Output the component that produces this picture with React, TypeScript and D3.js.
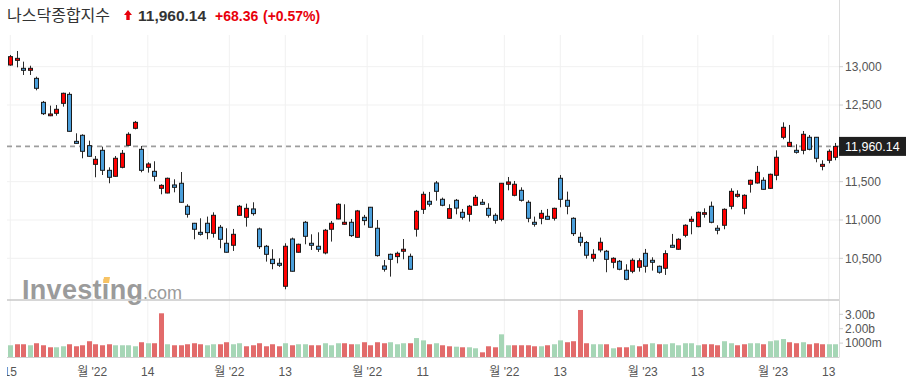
import React from "react";
import * as d3 from "d3";

const openV = [13022,13083,12979,12953,12848,12535,12360,12392,12522,12639,12026,12105,11970,11726,11909,11648,11570,11687,11974,12196,11922,11687,11635,11413,11352,11457,11479,11179,10957,10839,10957,10826,10905,10696,10670,11061,11035,11144,10883,10657,10487,10435,10135,10752,10579,10970,10696,10657,10570,10879,11013,10944,10970,10774,11035,11166,10892,10400,10552,10522,10592,10526,10879,11139,11244,11483,11270,11022,11257,11100,11074,11192,11231,11152,11061,11009,11466,11322,11387,11231,10970,11022,11048,11022,11544,11257,11022,10774,10705,10500,10609,10592,10448,10461,10344,10331,10383,10565,10474,10396,10370,10670,10618,10800,10983,10913,11074,11179,10892,10931,11179,11309,11152,11466,11483,11518,11413,11583,12079,11961,11909,11909,12079,12079,11700,11779,11818];
const highV = [13153,13205,13066,13013,12870,12553,12492,12500,12661,12666,12131,12118,12035,11835,11957,11687,11835,11913,12144,12292,11966,11753,11766,11466,11553,11531,11626,11205,10962,11022,11044,11100,10935,10892,10883,11196,11213,11231,10900,10674,10618,10500,10696,10770,10691,10987,10813,10839,10883,10987,11218,11205,11013,11131,11066,11170,11000,10478,10561,10587,10752,10561,11131,11370,11366,11509,11292,11205,11274,11144,11196,11326,11274,11218,11087,11483,11561,11509,11426,11257,11044,11131,11144,11161,11587,11370,11035,10839,10726,10618,10770,10609,10513,10478,10422,10500,10500,10622,10513,10405,10605,10818,10761,10944,11048,11110,11152,11240,10931,11152,11413,11387,11335,11526,11705,11557,11605,11909,12274,12240,11987,12161,12109,12083,11779,11922,12005];
const lowV = [13013,12992,12892,12892,12692,12370,12355,12361,12479,12153,11995,11805,11826,11557,11587,11479,11566,11674,11970,12183,11622,11618,11505,11335,11348,11361,11226,11031,10748,10796,10748,10770,10631,10574,10596,11057,10913,11057,10622,10457,10357,10387,10096,10327,10574,10683,10609,10583,10552,10718,11009,10935,10779,10770,10931,10900,10522,10326,10261,10435,10487,10352,10783,11079,11174,11252,11179,11018,11074,11005,10979,11187,11196,11031,10952,10983,11387,11309,11240,10970,10913,10944,11005,10992,11166,11074,10791,10657,10496,10457,10579,10318,10370,10344,10213,10305,10326,10313,10339,10300,10283,10639,10609,10774,10813,10905,11031,10957,10813,10879,11139,11292,11074,11357,11474,11396,11404,11518,12053,11955,11866,11857,11909,11753,11648,11740,11779];
const closeV = [13131,13109,12953,12979,12718,12387,12383,12444,12653,12157,12000,11896,11831,11792,11648,11557,11805,11870,12118,12274,11648,11731,11570,11452,11544,11426,11231,11074,10879,10813,10835,11061,10748,10579,10813,11179,11152,11083,10652,10552,10431,10409,10657,10331,10683,10787,10670,10618,10866,10957,11205,10970,10796,11118,10992,10905,10535,10357,10487,10565,10618,10357,11113,11335,11205,11374,11192,11148,11155,11035,11179,11296,11205,11061,10996,11479,11496,11466,11257,11022,10944,11087,11009,11152,11270,11179,10822,10709,10540,10552,10709,10487,10500,10357,10226,10474,10468,10396,10448,10318,10561,10644,10748,10931,11009,11100,11095,10970,10866,11139,11374,11335,11322,11518,11622,11400,11596,11818,12209,12013,11883,12118,11922,11805,11726,11896,11960.14];
const volumeB = [0.85,0.92,0.92,0.85,0.99,0.85,0.71,0.71,0.78,0.92,0.78,0.85,1.13,0.92,0.85,0.92,0.85,0.85,0.85,0.78,1.06,0.99,0.99,3.07,0.92,0.85,0.85,0.92,0.99,0.92,0.85,0.92,0.92,1.06,0.92,0.99,0.78,0.85,0.99,0.78,0.92,0.78,0.99,0.85,0.92,0.92,0.85,0.85,0.99,0.85,0.99,0.99,0.92,0.92,1.06,0.85,1.06,0.99,1.06,0.92,0.99,0.99,1.35,1.19,0.92,0.99,0.85,0.78,0.75,0.71,0.71,0.64,0.36,0.78,0.71,1.61,0.85,0.85,0.85,0.85,0.78,0.78,0.85,0.92,1.19,1.06,1.13,3.30,0.99,0.92,0.92,0.92,0.64,0.71,0.71,0.85,0.78,0.92,0.99,0.92,0.92,0.99,0.85,0.99,0.99,0.85,0.92,0.92,0.85,1.13,0.99,0.85,0.92,0.99,0.99,0.92,1.13,1.19,1.28,1.06,0.99,1.06,0.92,0.99,0.92,0.92,0.92];

const priceTicks = [10500, 11000, 11500, 12500, 13000];
const volTicks = [1, 2, 3];
const volTickLabels = ["1000m", "2.00b", "3.00b"];
const dateTickPos = [0, 12.5, 21, 33.45, 42, 54.5, 63, 75.45, 84, 96.6, 105, 116.5, 125];
const dateTickLabels = ["15", "월 '22", "14", "월 '22", "13", "월 '22", "11", "월 '22", "13", "월 '23", "13", "월 '23", "13"];

const title = "나스닥종합지수";
const lastPrice = 11960.14;
const changeText = "+68.36";
const changePctText = "(+0.57%)";

const W = 906, H = 389;
const plotL = 7, plotR = 839;
const priceTop = 35, priceBottom = 300, volBottom = 357.5;

export default function App() {
  const n = closeV.length;
  const x = d3.scaleLinear().domain([0, n - 1]).range([10.3, 835.3]);
  const y = d3.scaleLinear().domain([10500, 13000]).range([258.3, 66.7]);
  const yv = d3.scaleLinear().domain([0, 3]).range([volBottom, 314.3]);
  const fmt = d3.format(",");
  const fmt2 = d3.format(",.2f");
  const font = "'Liberation Sans', Arial, sans-serif";
  const red = "#ff0000", blue = "#4b9fdb";
  const lastY = y(lastPrice);
  return (
    <svg width={W} height={H} style={{ position: "absolute", left: 0, top: 0, background: "#fff" }} fontFamily={font}>
      <defs>
        <clipPath id="plotclip"><rect x={plotL} y={0} width={plotR - plotL} height={H} /></clipPath>
      </defs>
      {/* header */}
      <text x={7} y={21} fontSize={16} fill="#333" fontFamily="'Noto Sans CJK KR', sans-serif">{title}</text>
      <path d="M124,15 L128,10 L132,15 L129.7,15 L129.7,20 L126.3,20 L126.3,15 Z" fill="#e8000b" />
      <text x={138} y={21} fontSize={15.5} fontWeight="bold" fill="#333">{fmt2(lastPrice)}</text>
      <text x={215} y={21} fontSize={14} fontWeight="bold" fill="#e8000b">{changeText}</text>
      <text x={263} y={21} fontSize={14} fontWeight="bold" fill="#e8000b">{changePctText}</text>

      {/* grid */}
      {dateTickPos.map((p, i) => (
        <line key={"vg" + i} x1={x(p)} x2={x(p)} y1={priceTop} y2={volBottom} stroke="#f1f1f1" strokeWidth={1} />
      ))}
      {priceTicks.map((t) => (
        <line key={"hg" + t} x1={plotL} x2={plotR} y1={y(t)} y2={y(t)} stroke="#f1f1f1" strokeWidth={1} />
      ))}

      {/* watermark */}
      <g opacity={0.85}>
        <text x={22} y={299} fontSize={27} fontWeight="bold" fill="#8a8a8a" letterSpacing={0.3}>Investing</text>
        <text x={143} y={299} fontSize={18} fill="#8a8a8a">.com</text>
        <path d="M104,277 L110,277 L109,283 L103,283 Z" fill="#f6b94a" />
      </g>

      {/* last price dashed line */}
      <line x1={plotL} x2={plotR} y1={lastY} y2={lastY} stroke="#9d9d9d" strokeWidth={1.6} strokeDasharray="5,4" />

      {/* candles */}
      {closeV.map((c, i) => {
        const o = openV[i];
        const up = c >= o;
        const cx = Math.round(x(i)) + 0.5;
        const top = y(Math.max(o, c));
        const bot = y(Math.min(o, c));
        return (
          <g key={"c" + i}>
            <line x1={cx} x2={cx} y1={y(highV[i])} y2={y(lowV[i])} stroke="#2a2a2a" strokeWidth={1} />
            <rect x={cx - 2} y={top} width={4} height={Math.max(bot - top, 1.5)} fill={up ? red : blue} stroke="#1a1a1a" strokeWidth={1} />
          </g>
        );
      })}

      {/* separator */}
      <line x1={plotL} x2={plotR} y1={priceBottom} y2={priceBottom} stroke="#c8c8c8" strokeWidth={1.5} />

      {/* volume */}
      {volumeB.map((v, i) => {
        const upDay = i === 0 ? true : closeV[i] >= closeV[i - 1];
        const cx = Math.round(x(i)) + 0.5;
        return (
          <rect key={"v" + i} x={cx - 2.5} y={yv(v)} width={5} height={volBottom - yv(v)} fill={upDay ? "#a6d6b6" : "#e26b6b"} />
        );
      })}
      <line x1={plotL} x2={plotR} y1={volBottom} y2={volBottom} stroke="#d0d0d0" strokeWidth={1} />

      {/* right axis */}
      <line x1={plotR + 0.5} x2={plotR + 0.5} y1={0} y2={volBottom} stroke="#dcdcdc" strokeWidth={1} />
      {priceTicks.map((t) => (
        <g key={"pt" + t}>
          <line x1={plotR} x2={plotR + 4} y1={y(t)} y2={y(t)} stroke="#cfcfcf" />
          <text x={845} y={y(t)} dy="0.35em" fontSize={12} fill="#555">{fmt(t)}</text>
        </g>
      ))}
      {volTicks.map((t, i) => (
        <g key={"vt" + t}>
          <line x1={plotR} x2={plotR + 4} y1={yv(t)} y2={yv(t)} stroke="#cfcfcf" />
          <text x={845} y={yv(t)} dy="0.35em" fontSize={12} fill="#555">{volTickLabels[i]}</text>
        </g>
      ))}
      <rect x={plotR} y={lastY - 9.5} width={W - plotR} height={19} fill="#1f1f1f" />
      <text x={845} y={lastY} dy="0.35em" fontSize={12.5} fill="#fff">{fmt2(lastPrice)}</text>

      {/* x axis labels */}
      <g clipPath="url(#plotclip)">
        {dateTickPos.map((p, i) => (
          <text key={"xl" + i} x={x(p)} y={376} textAnchor="middle" fontSize={12} fill="#555" fontFamily="'Liberation Sans', 'Noto Sans CJK KR', sans-serif">{dateTickLabels[i]}</text>
        ))}
      </g>
    </svg>
  );
}
